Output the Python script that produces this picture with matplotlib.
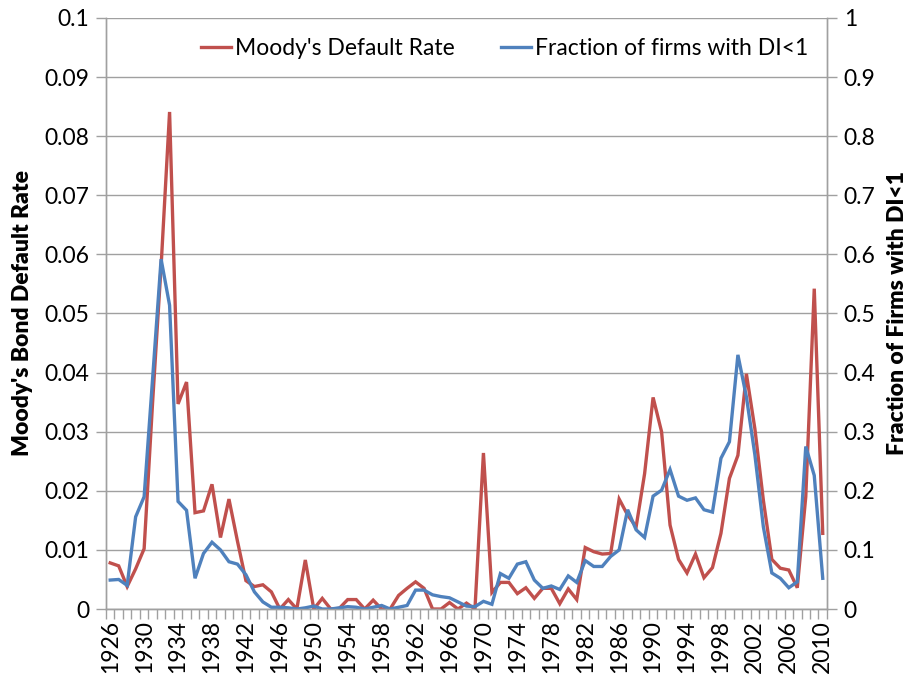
import matplotlib
matplotlib.use('Agg')
import matplotlib.pyplot as plt
import numpy as np

# categories
years = list(range(1926, 2011))

# Moody's default rate (left axis)
moody = [0.0078, 0.0073, 0.0038, 0.0068, 0.0102, 0.035, 0.058, 0.0841, 0.0347, 0.0384,
         0.0163, 0.0166, 0.0211, 0.0121, 0.0186, 0.0115, 0.0048, 0.0038, 0.0041, 0.0029,
         0.0, 0.0016, 0.0, 0.0083, 0.0, 0.0018, 0.0, 0.0001, 0.0016, 0.0016,
         0.0, 0.0015, 0.0, 0.0, 0.0023, 0.0035, 0.0046, 0.0035, 0.0, 0.0,
         0.0011, 0.0, 0.0010, 0.0, 0.0264, 0.0028, 0.0045, 0.0045, 0.0026, 0.0036,
         0.0018, 0.0035, 0.0035, 0.0009, 0.0034, 0.0016, 0.0104, 0.0097, 0.0093, 0.0094,
         0.0186, 0.0159, 0.0139, 0.0229, 0.0358, 0.0300, 0.0142, 0.0084, 0.0061, 0.0093,
         0.0053, 0.0070, 0.0128, 0.0221, 0.0260, 0.0398, 0.0305, 0.0184, 0.0084, 0.0069,
         0.0066, 0.0036, 0.019, 0.0542, 0.0128]

# fraction of firms with DI<1 (right axis)
frac = [0.049, 0.050, 0.040, 0.156, 0.190, 0.390, 0.592, 0.514, 0.182, 0.167,
        0.052, 0.094, 0.113, 0.100, 0.080, 0.076, 0.058, 0.029, 0.012, 0.003,
        0.003, 0.002, 0.000, 0.002, 0.005, 0.000, 0.000, 0.002, 0.004, 0.003,
        0.000, 0.003, 0.006, 0.000, 0.003, 0.006, 0.032, 0.032, 0.024, 0.021,
        0.019, 0.012, 0.005, 0.004, 0.013, 0.008, 0.060, 0.052, 0.076, 0.080,
        0.049, 0.035, 0.039, 0.033, 0.056, 0.045, 0.082, 0.072, 0.072, 0.089,
        0.100, 0.168, 0.134, 0.121, 0.191, 0.201, 0.236, 0.191, 0.184, 0.188,
        0.168, 0.164, 0.255, 0.283, 0.430, 0.359, 0.261, 0.139, 0.061, 0.052,
        0.036, 0.046, 0.275, 0.226, 0.052]

left_ticks = [0, 0.01, 0.02, 0.03, 0.04, 0.05, 0.06, 0.07, 0.08, 0.09, 0.1]
left_labels = ['0', '0.01', '0.02', '0.03', '0.04', '0.05', '0.06', '0.07', '0.08', '0.09', '0.1']
right_ticks = [0, 0.1, 0.2, 0.3, 0.4, 0.5, 0.6, 0.7, 0.8, 0.9, 1.0]
right_labels = ['0', '0.1', '0.2', '0.3', '0.4', '0.5', '0.6', '0.7', '0.8', '0.9', '1']

plt.rcParams['font.family'] = ['Lato', 'DejaVu Sans']
red = '#C0504D'
blue = '#4F81BD'
grid_c = '#A0A0A0'
fs = 16.5

fig = plt.figure(figsize=(9.15, 6.81), dpi=100)
ax = fig.add_axes([0.1158, 0.1057, 0.7880, 0.8679])
ax2 = ax.twinx()

l1, = ax.plot(years, moody, color=red, lw=2.4, solid_joinstyle='miter', label="Moody's Default Rate")
l2, = ax2.plot(years, frac, color=blue, lw=2.4, solid_joinstyle='miter', label='Fraction of firms with DI<1')

ax.set_xlim(1925.5, 2010.5)
ax.set_ylim(0, 0.1)
ax2.set_ylim(0, 1)

ax.set_yticks(left_ticks)
ax.set_yticklabels(left_labels, fontsize=fs)
ax2.set_yticks(right_ticks)
ax2.set_yticklabels(right_labels, fontsize=fs)

ax.set_xticks(years[::4])
ax.set_xticklabels([str(y) for y in years[::4]], rotation=90, fontsize=fs)
ax.set_xticks(np.arange(1925.5, 2011, 1), minor=True)
ax.tick_params(axis='x', which='major', length=0, pad=8)
ax.tick_params(axis='x', which='minor', length=7, color=grid_c, width=1)
ax.tick_params(axis='y', length=7, color=grid_c, width=1, pad=5)
ax2.tick_params(axis='y', length=7, color=grid_c, width=1, pad=5)

ax.yaxis.grid(True, color=grid_c, lw=1)
ax.set_axisbelow(True)

for a in (ax, ax2):
    a.spines['top'].set_visible(False)
    for s in ('left', 'right', 'bottom'):
        a.spines[s].set_color(grid_c)
        a.spines[s].set_linewidth(1)

ax.set_ylabel("Moody's Bond Default Rate", fontsize=fs, fontweight='heavy', labelpad=8)
ax2.set_ylabel('Fraction of Firms with DI<1', fontsize=fs, fontweight='heavy', labelpad=8)

ax2.legend([l1, l2], [l1.get_label(), l2.get_label()], loc='center', bbox_to_anchor=(0.553, 0.949),
           ncol=2, frameon=False, fontsize=fs, handlelength=1.3, handletextpad=0.2,
           columnspacing=2.0)

fig.savefig('out.png', dpi=100)
